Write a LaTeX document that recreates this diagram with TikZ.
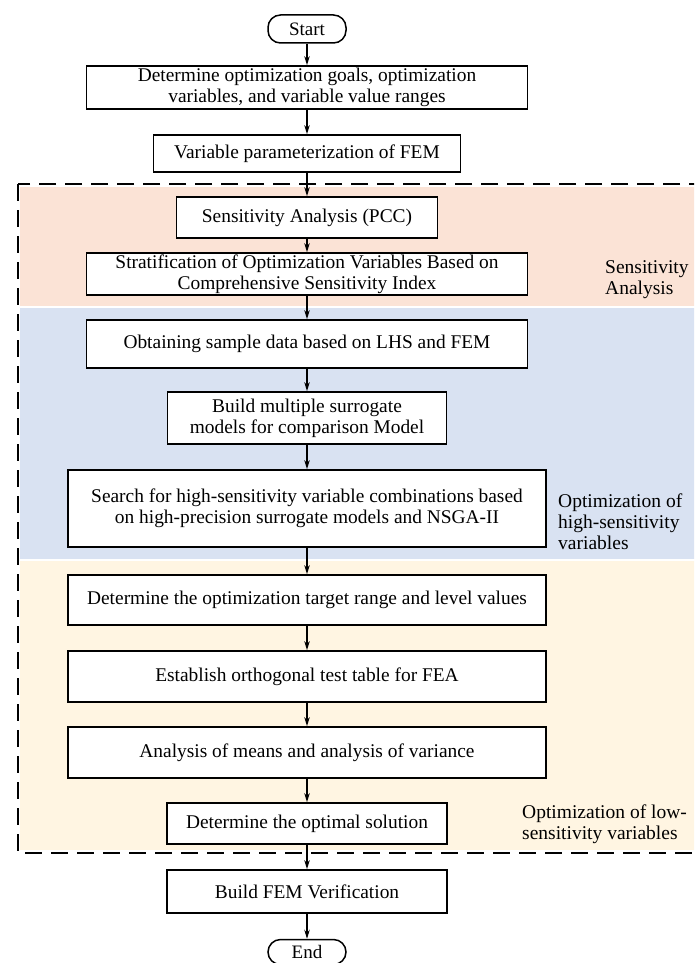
\documentclass[tikz,border=0pt]{standalone}
\usepackage{fontspec}
\setmainfont{Liberation Serif}
\usetikzlibrary{arrows.meta}
\definecolor{bandO}{HTML}{FBE3D6}
\definecolor{bandB}{HTML}{D9E2F2}
\definecolor{bandY}{HTML}{FFF5E2}
\tikzset{
  box/.style={draw, fill=white, line width=1.8pt, align=center, inner sep=0pt,
    font=\fontsize{19.4}{21}\selectfont},
  term/.style={draw, fill=white, line width=1.5pt, rounded corners=12.5pt, align=center, inner sep=0pt,
    font=\fontsize{19}{21}\selectfont},
  lab/.style={anchor=west, align=left, inner sep=0pt, font=\fontsize{19.5}{21}\selectfont},
  arr/.style={-{Stealth[length=9pt,width=5.5pt]}, line width=1.1pt},
  dashbox/.style={line width=2.6pt, dash pattern=on 17pt off 9pt}
}
\begin{document}
\begin{tikzpicture}[x=1pt,y=-1pt]
\useasboundingbox (0,0) rectangle (694,963);
\clip (0,0) rectangle (694,963);
% bands
\fill[bandO] (20,187) rectangle (700,306);
\fill[bandB] (20,308) rectangle (700,559);
\fill[bandY] (20,561) rectangle (700,850);
\draw[dashbox] (18,184) rectangle (720,853);
% nodes
\node[term, minimum width=78, minimum height=28] (start) at (307,29) {Start};
\node[box, minimum width=441, minimum height=43] (b1) at (307,87.5) {Determine optimization goals, optimization\\variables, and variable value ranges};
\node[box, minimum width=307, minimum height=37] (b2) at (307,153.5) {Variable parameterization of FEM};
\node[box, minimum width=261, minimum height=41] (b3) at (307,217.5) {Sensitivity Analysis (PCC)};
\node[box, minimum width=441, minimum height=42] (b4) at (307,274) {Stratification of Optimization Variables Based on\\Comprehensive Sensitivity Index};
\node[box, minimum width=441, minimum height=48] (b5) at (307,344) {Obtaining sample data based on LHS and FEM};
\node[box, minimum width=279, minimum height=52] (b6) at (307,418) {Build multiple surrogate\\models for comparison Model};
\node[box, minimum width=478, minimum height=77] (b7) at (307,508.5) {Search for high-sensitivity variable combinations based\\on high-precision surrogate models and NSGA-II};
\node[box, minimum width=478, minimum height=50] (b8) at (307,600) {Determine the optimization target range and level values};
\node[box, minimum width=478, minimum height=51] (b9) at (307,676.5) {Establish orthogonal test table for FEA};
\node[box, minimum width=478, minimum height=51] (b10) at (307,752.5) {Analysis of means and analysis of variance};
\node[box, minimum width=280, minimum height=41] (b11) at (307,823.5) {Determine the optimal solution};
\node[box, minimum width=280, minimum height=43] (b12) at (307,891.5) {Build FEM Verification};
\node[term, minimum width=78, minimum height=25] (end) at (307,952) {End};
% labels
\node[lab] (l1) at (605,280) {Sensitivity\\Analysis};
\node[lab] (l2) at (558,522) {Optimization of\\high-sensitivity\\variables};
\node[lab] (l3) at (522,824) {Optimization of low-\\sensitivity variables};
% arrows
\draw[arr] (start) -- (b1);
\draw[arr] (b1) -- (b2);
\draw[arr] (b2) -- (b3);
\draw[arr] (b3) -- (b4);
\draw[arr] (b4) -- (b5);
\draw[arr] (b5) -- (b6);
\draw[arr] (b6) -- (b7);
\draw[arr] (b7) -- (b8);
\draw[arr] (b8) -- (b9);
\draw[arr] (b9) -- (b10);
\draw[arr] (b10) -- (b11);
\draw[arr] (b11) -- (b12);
\draw[arr] (b12) -- (end);
\end{tikzpicture}
\end{document}
